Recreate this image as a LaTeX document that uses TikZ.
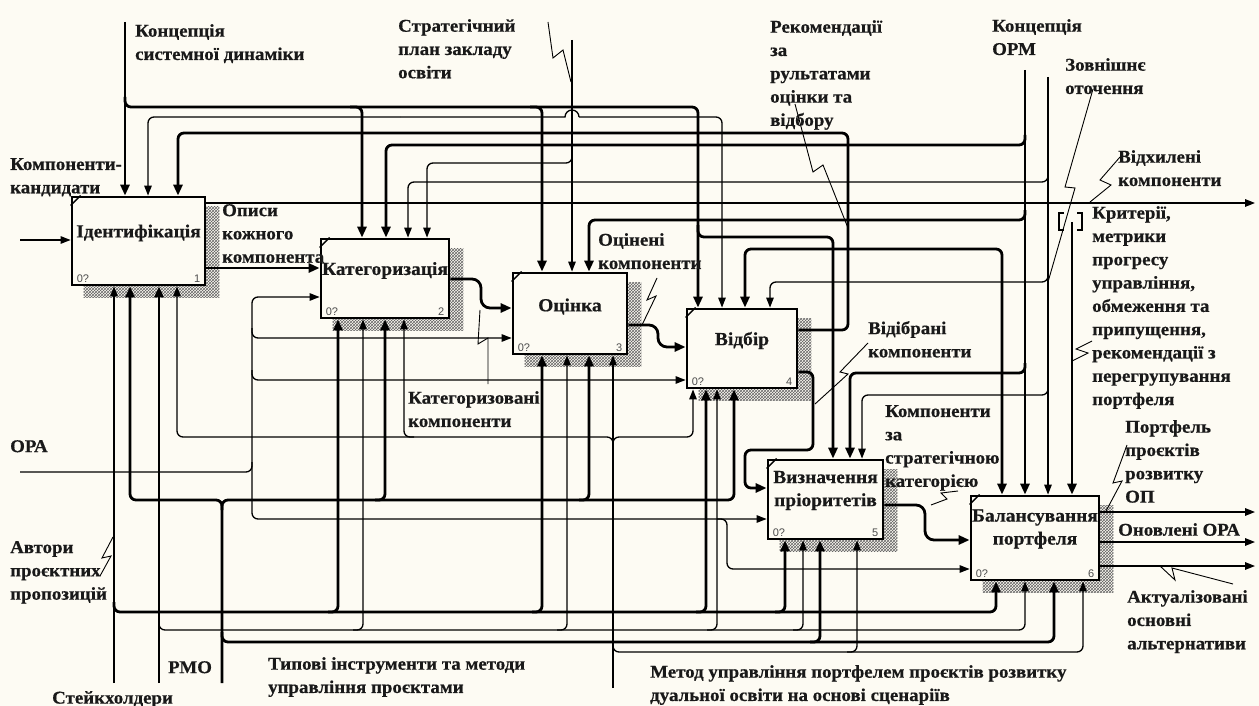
\documentclass[tikz,border=0pt]{standalone}
\usepackage{fontspec}
\setmainfont{Liberation Serif}[FakeStretch=1.05, BoldFeatures={FakeBold=0.5}]
\newfontfamily\tagfont{Liberation Sans}
\usetikzlibrary{arrows.meta,patterns}
\definecolor{paper}{RGB}{253,251,243}
\definecolor{ink}{RGB}{25,25,25}
\pgfdeclarelayer{back}
\pgfsetlayers{back,main}

\begin{document}
\begin{tikzpicture}[x=1pt,y=-1pt,
  T/.style={line width=2.8pt},
  t/.style={line width=1.3pt},
  tipT/.style={-{Triangle[length=11pt,width=9pt]}},
  tipt/.style={-{Triangle[length=10pt,width=7.5pt]}},
  rc/.style={rounded corners=6pt},
  call/.style={line width=0.9pt},
  box/.style={draw=black, line width=2.8pt, fill=paper, inner sep=0pt},
  btxt/.style={font=\bfseries\fontsize{18.5}{23}\selectfont, align=center, text=ink, inner sep=0pt},
  tag/.style={font=\tagfont\fontsize{11}{12}\selectfont, text=black!70, inner sep=0pt},
  lab/.style={font=\bfseries\fontsize{18}{23.3}\selectfont, align=left, anchor=north west, inner sep=0pt, text=ink},
]
\useasboundingbox (0,0) rectangle (1259,706);

% ---------- activity boxes ----------
\node[box, minimum width=133pt, minimum height=88pt] (idn) at (138.5,241) {};
\node[box, minimum width=128pt, minimum height=79pt] (cat) at (385,278.5) {};
\node[box, minimum width=114pt, minimum height=81pt] (ots) at (570,313.5) {};
\node[box, minimum width=110pt, minimum height=79pt] (vid) at (742,348.5) {};
\node[box, minimum width=115pt, minimum height=79pt] (viz) at (825.5,499.5) {};
\node[box, minimum width=128pt, minimum height=84pt] (bal) at (1035,538) {};

\node[btxt] (idn-t) at ([yshift=8pt]idn.center) {Ідентифікація};
\node[btxt] (cat-t) at ([yshift=8pt]cat.center) {Категоризація};
\node[btxt] (ots-t) at ([yshift=7pt]ots.center) {Оцінка};
\node[btxt] (vid-t) at ([yshift=8pt]vid.center) {Відбір};
\node[btxt] (viz-t) at ([yshift=9pt]viz.center) {Визначення\\пріоритетів};
\node[btxt] (bal-t) at ([yshift=9pt]bal.center) {Балансування\\портфеля};

\foreach \b/\n in {idn/1,cat/2,ots/3,vid/4,viz/5,bal/6}{
  \draw[line width=1.4pt] ([yshift=-10pt]\b.north west) -- ([xshift=10pt]\b.north west);
  \node[tag, anchor=south west] (\b-z) at ([shift={(6pt,4pt)}]\b.south west) {0?};
  \node[tag, anchor=south east] (\b-n) at ([shift={(-6pt,4pt)}]\b.south east) {\n};
}

% ---------- paper and box shadows ----------
\begin{pgfonlayer}{back}
  \fill[paper] (0,0) rectangle (1259,706);
  \foreach \b in {idn,cat,ots,vid,viz,bal}
    \fill[pattern=crosshatch, pattern color=black!60]
      ([shift={(13pt,-11pt)}]\b.north west) rectangle ([shift={(13pt,-11pt)}]\b.south east);
\end{pgfonlayer}

% ---------- controls ----------
% system dynamics concept
\coordinate (sd) at (125,22);
\draw[T,tipT] (sd) -- (125,0 |- idn.north);
\draw[T,tipT,rc] (125,97) -- (125,107) -- (698,107) -- (698,0 |- vid.north);
\draw[T,tipT,rc] (350,107) -- (362,107) -- (362,0 |- cat.north);
\draw[T,tipT,rc] (530,107) -- (542,107) -- (542,0 |- ots.north);
\draw[T,tipT,rc] (698,225) -- (698,237) -- (833,237) -- (833,0 |- viz.north);

% thin control to identification and selection
\draw[t,tipt,rc] (400,117) -- (148,117) -- (148,0 |- idn.north);
\draw[t] (400,117) -- (565,117) arc[start angle=180,end angle=0,radius=7pt];
\draw[t,tipt,rc] (579,117) -- (722,117) -- (722,0 |- vid.north);

% recommendations fed back from selection
\draw[T,tipT,rc] (vid.east |- 0,330) -- (848,330) -- (848,133) -- (178,133) -- (178,0 |- idn.north);

% ORM concept
\coordinate (orm) at (1025,70);
\draw[T,tipT] (orm) -- (1025,0 |- bal.north);
\draw[T,tipT,rc] (1025,135) -- (1025,145) -- (386,145) -- (386,0 |- cat.north);
\draw[T,tipT,rc] (1025,210) -- (1025,220) -- (589,220) -- (589,0 |- ots.north);
\draw[T,tipT,rc] (1025,363) -- (1025,373) -- (850,373) -- (850,0 |- viz.north);

% external environment
\coordinate (env) at (1048,77);
\draw[t,tipt] (env) -- (1048,0 |- bal.north);
\draw[t,tipt,rc] (1048,172) -- (1048,182) -- (408,182) -- (408,0 |- cat.north);
\draw[t,tipt,rc] (1048,272) -- (1048,282) -- (770,282) -- (770,0 |- vid.north);
\draw[t,tipt,rc] (1048,385) -- (1048,395) -- (862,395) -- (862,0 |- viz.north);

% strategic plan
\coordinate (sp) at (572,40);
\draw[t,tipt] (sp) -- (572,0 |- ots.north);
\draw[t,tipt,rc] (572,153) -- (572,163) -- (427,163) -- (427,0 |- cat.north);

% shared control of selection and balancing
\draw[T,{Triangle[length=11pt,width=9pt]}-{Triangle[length=11pt,width=9pt]},rc]
  (745,0 |- vid.north) -- (745,249) -- (1002,249) -- (1002,0 |- bal.north);

% tunnelled criteria
\coordinate (crit) at (1072,222);
\draw[T,tipT] (crit) -- (1072,0 |- bal.north);
\draw[line width=2pt] (1064,213) -- (1059,213) -- (1059,230) -- (1064,230);
\draw[line width=2pt] (1077,213) -- (1082,213) -- (1082,230) -- (1077,230);

% ---------- inputs and outputs ----------
\coordinate (cand) at (20,240);
\draw[t,tipt] (cand) -- (idn.west |- 0,240);
\draw[line width=1.6pt,tipt] (idn.east |- 0,203) -- (1255,203);
\draw[T,tipT] (idn.east |- 0,268) -- (cat.west |- 0,268);

% OPA input and its branches
\coordinate (opa) at (20,472);
\draw[t,tipt,rc] (opa) -- (252,472) -- (252,297) -- (cat.west |- 0,297);
\draw[t,tipt,rc] (252,328) -- (252,338) -- (ots.west |- 0,338);
\draw[t,tipt,rc] (252,370) -- (252,380) -- (vid.west |- 0,380);
\draw[t,tipt,rc] (252,462) -- (252,519) -- (viz.west |- 0,519);
\draw[t,tipt,rc] (717,519) -- (727,519) -- (727,569) -- (bal.west |- 0,569);

\draw[T,tipT,rounded corners=9pt] (cat.east |- 0,279) -- (481,279) -- (481,308) -- (ots.west |- 0,308);
\draw[T,tipT,rounded corners=9pt] (ots.east |- 0,325) -- (658,325) -- (658,347) -- (vid.west |- 0,347);
\draw[T,tipT,rc] (vid.east |- 0,372) -- (813,372) -- (813,450) -- (745,450) -- (745,488) -- (viz.west |- 0,488);
\draw[T,tipT,rounded corners=9pt] (viz.east |- 0,505) -- (925,505) -- (925,540) -- (bal.west |- 0,540);

\draw[line width=1.6pt,tipt] (bal.east |- 0,512) -- (1255,512);
\draw[line width=1.6pt,tipt] (bal.east |- 0,542) -- (1255,542);
\draw[line width=1.6pt,tipt] (bal.east |- 0,566) -- (1255,566);

% ---------- mechanisms ----------
% portfolio management method
\coordinate (mth) at (613,688);
\draw[t,tipt] (mth) -- (613,0 |- ots.south);
\draw[t,tipt,rc] (613,447) -- (613,437) -- (177,437) -- (177,0 |- idn.south);
\draw[t,tipt,rc] (414,437) -- (404,437) -- (404,0 |- cat.south);
\draw[t,tipt,rc] (613,447) -- (613,437) -- (693,437) -- (693,0 |- vid.south);
\draw[t,tipt,rc] (613,642) -- (613,652) -- (1083,652) -- (1083,0 |- bal.south);
\draw[t,tipt,rc] (847,652) -- (857,652) -- (857,0 |- viz.south);

% PMO
\coordinate (pmo) at (222,683);
\draw[T,tipT,rc] (pmo) -- (222,500) -- (130,500) -- (130,0 |- idn.south);
\draw[T,tipT,rc] (222,510) -- (222,500) -- (734,500) -- (734,0 |- vid.south);
\draw[T,tipT,rc] (375,500) -- (385,500) -- (385,0 |- cat.south);
\draw[T,tipT,rc] (579,500) -- (589,500) -- (589,0 |- ots.south);
\draw[T,tipT,rc] (222,632) -- (222,642) -- (1054,642) -- (1054,0 |- bal.south);
\draw[T,tipT,rc] (810,642) -- (820,642) -- (820,0 |- viz.south);

% stakeholders and proposal authors
\coordinate (sth) at (114,683);
\draw[t,tipt] (sth) -- (114,0 |- idn.south);
\draw[T,tipT,rc] (114,602) -- (114,612) -- (996,612) -- (996,0 |- bal.south);
\draw[T,tipT,rc] (328,612) -- (338,612) -- (338,0 |- cat.south);
\draw[T,tipT,rc] (532,612) -- (542,612) -- (542,0 |- ots.south);
\draw[T,tipT,rc] (696,612) -- (706,612) -- (706,0 |- vid.south);
\draw[T,tipT,rc] (775,612) -- (785,612) -- (785,0 |- viz.south);

\coordinate (aut) at (159,683);
\draw[T,tipT] (aut) -- (159,0 |- idn.south);
\draw[t,tipt,rc] (159,620) -- (159,630) -- (1025,630) -- (1025,0 |- bal.south);
\draw[t,tipt,rc] (353,630) -- (363,630) -- (363,0 |- cat.south);
\draw[t,tipt,rc] (557,630) -- (567,630) -- (567,0 |- ots.south);
\draw[t,tipt,rc] (707,630) -- (717,630) -- (717,0 |- vid.south);
\draw[t,tipt,rc] (793,630) -- (803,630) -- (803,0 |- viz.south);

% ---------- callout squiggles ----------
\draw[call] (548,22) -- (553,58) -- (563,50) -- (571,82);
\draw[call] (795,104) -- (813,172) -- (823,165) -- (848,228);
\draw[call] (1093,89) -- (1065,187) -- (1075,188) -- (1048,282);
\draw[call] (1120,157) -- (1100,180) -- (1111,185) -- (1090,202);
\draw[call] (1092,341) -- (1076,349) -- (1088,353) -- (1072,361);
\draw[call] (657,278) -- (647,300) -- (656,296) -- (642,325);
\draw[call] (488,384) -- (488,338) -- (478,344) -- (480,310);
\draw[call] (868,343) -- (840,372) -- (848,374) -- (815,404);
\draw[call] (958,491) -- (941,493) -- (947,499) -- (931,505);
\draw[call] (1127,445) -- (1113,483) -- (1122,481) -- (1106,511);
\draw[call] (1233,584) -- (1172,568) -- (1175,580) -- (1160,566);
\draw[call] (113,537) -- (102,558) -- (111,556) -- (100,576);

% ---------- arrow labels ----------
\node[lab] (l-sd) at (135,24) {Концепція\\системної динаміки};
\node[lab] (l-sp) at (398,19) {Стратегічний\\план закладу\\освіти};
\node[lab] (l-rec) at (770,20) {Рекомендації\\за\\рультатами\\оцінки та\\відбору};
\node[lab] (l-orm) at (992,19) {Концепція\\ОРМ};
\node[lab] (l-env) at (1065,58) {Зовнішнє\\оточення};
\node[lab] (l-rej) at (1118,150) {Відхилені\\компоненти};
\node[lab] (l-crit) at (1092,206) {Критерії,\\метрики\\прогресу\\управління,\\обмеження та\\припущення,\\рекомендації з\\перегрупування\\портфеля};
\node[lab] (l-cand) at (10,158) {Компоненти-\\кандидати};
\node[lab] (l-desc) at (222,204) {Описи\\кожного\\компонента};
\node[lab] (l-eval) at (598,233) {Оцінені\\компоненти};
\node[lab] (l-catc) at (408,391) {Категоризовані\\компоненти};
\node[lab] (l-sel) at (868,321) {Відібрані\\компоненти};
\node[lab] (l-strat) at (885,405) {Компоненти\\за\\стратегічною\\категорією};
\node[lab] (l-opa) at (10,440) {ОРА};
\node[lab] (l-port) at (1125,420) {Портфель\\проєктів\\розвитку\\ОП};
\node[lab] (l-new) at (1118,523) {Оновлені ОРА};
\node[lab] (l-alt) at (1127,590) {Актуалізовані\\основні\\альтернативи};
\node[lab] (l-aut) at (10,541) {Автори\\проєктних\\пропозицій};
\node[lab] (l-pmo) at (168,661) {РМО};
\node[lab] (l-sth) at (52,691) {Стейкхолдери};
\node[lab] (l-tools) at (268,657) {Типові інструменти та методи\\управління проєктами};
\node[lab] (l-mth) at (650,665) {Метод управління портфелем проєктів розвитку\\дуальної освіти на основі сценаріїв};
\end{tikzpicture}
\end{document}
